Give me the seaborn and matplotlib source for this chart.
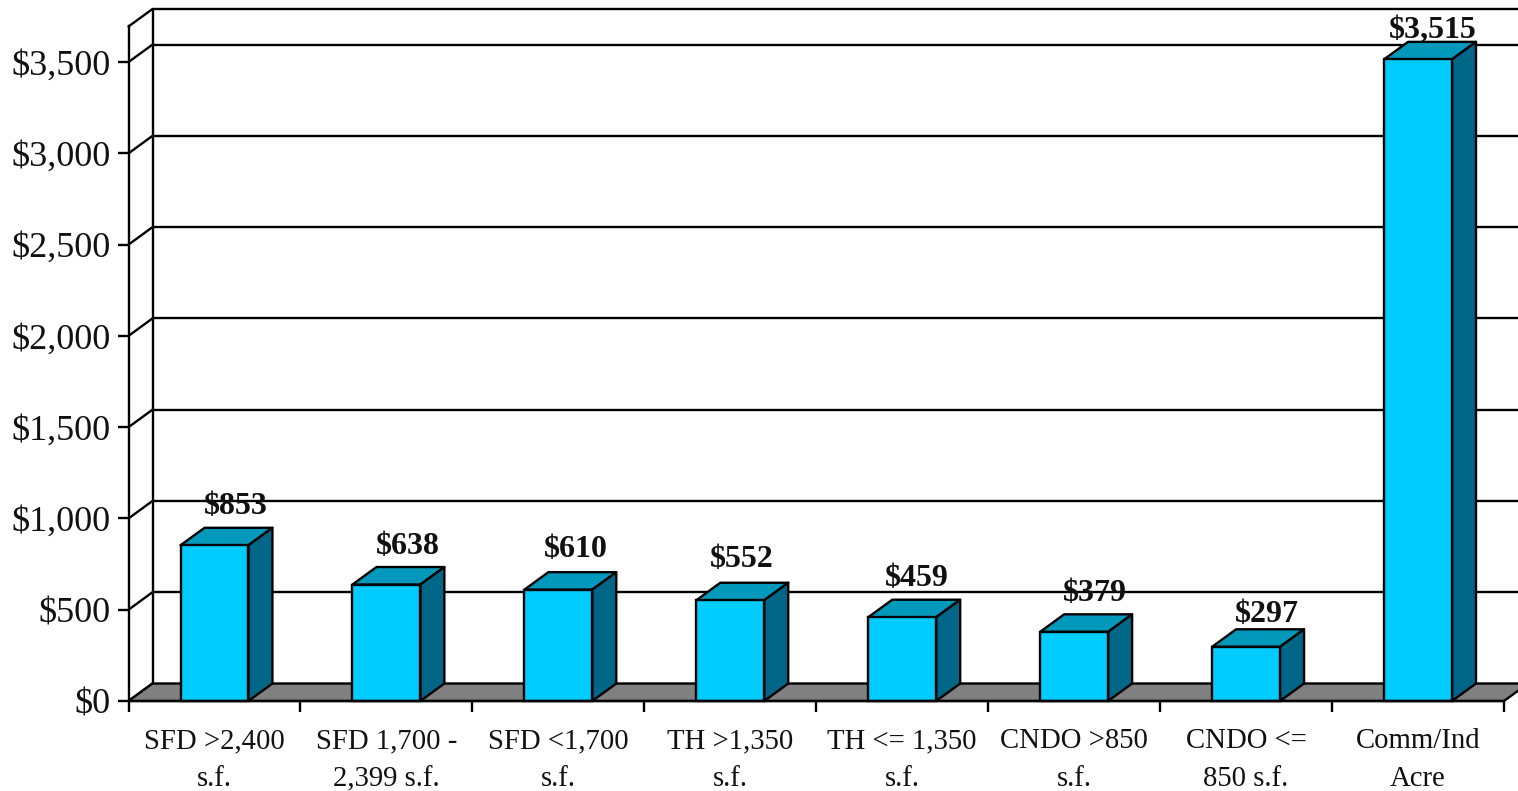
import matplotlib
matplotlib.use("Agg")
import matplotlib.pyplot as plt
from matplotlib.patches import Polygon
import numpy as np
import pandas as pd
import seaborn as sns

# Values
categories = ["SFD >2,400\ns.f.", "SFD 1,700 -\n2,399 s.f.", "SFD <1,700\ns.f.",
              "TH >1,350\ns.f.", "TH <= 1,350\ns.f.", "CNDO >850\ns.f.",
              "CNDO <=\n850 s.f.", "Comm/Ind\nAcre"]
values = [853, 638, 610, 552, 459, 379, 297, 3515]
y_ticks = [0, 500, 1000, 1500, 2000, 2500, 3000, 3500]

FRONT = "#00CCFF"
TOP = "#0099BB"
SIDE = "#006688"
FLOOR = "#808080"
LW = 1.7

sns.set_theme(style="white")
plt.rcParams["font.family"] = ["Liberation Serif", "DejaVu Serif"]
plt.rcParams["text.color"] = "#111111"

df = pd.DataFrame({"category": categories, "value": values})

W, H = 1518, 791
fig = plt.figure(figsize=(W / 100, H / 100), dpi=100)
ax = fig.add_axes([128.5 / W, (H - 701) / H, (1504 - 128.5) / W, (701 - 26.5) / H])

sns.barplot(data=df, x="category", y="value", color=FRONT, saturation=1, width=0.395,
            edgecolor="black", linewidth=LW, zorder=5, ax=ax)

n = len(categories)
x0, x1 = -0.5, n - 0.5
y_top = 3695
ax.set_xlim(x0, x1)
ax.set_ylim(0, y_top)

# depth of the fake 3D box, in data units
dx = 24 / (1375.5 / n)
dy = 17.5 / (674.5 / y_top)
far_right = x1 + dx

# back wall gridlines and the left wall diagonals
for v in y_ticks:
    ax.plot([x0, x0 + dx], [v, v + dy], color="black", lw=LW, clip_on=False, zorder=1)
    if v > 0:
        ax.plot([x0 + dx, far_right], [v + dy, v + dy], color="black", lw=LW, clip_on=False, zorder=1)
ax.plot([x0, x0 + dx], [y_top, y_top + dy], color="black", lw=LW, clip_on=False, zorder=1)
ax.plot([x0 + dx, far_right], [y_top + dy, y_top + dy], color="black", lw=LW, clip_on=False, zorder=1)
ax.plot([x0 + dx, x0 + dx], [dy, y_top + dy], color="black", lw=LW, clip_on=False, zorder=1)

# floor
ax.add_patch(Polygon([(x0, 0), (x1, 0), (x1 + dx, dy), (x0 + dx, dy)], closed=True,
                     facecolor=FLOOR, edgecolor="black", lw=LW, clip_on=False, zorder=2))

# top and side of every bar, label above it
nudges = [(21, 21), (21, 21), (17, 23), (11, 23), (15, 21), (21, 21), (21, 15), (15, 11)]
for bar, v, (nx, ny) in zip(ax.patches, values, nudges):
    left = bar.get_x()
    right = left + bar.get_width()
    h = bar.get_height()
    ax.add_patch(Polygon([(left, h), (right, h), (right + dx, h + dy), (left + dx, h + dy)], closed=True,
                         facecolor=TOP, edgecolor="black", lw=LW, clip_on=False, zorder=4, joinstyle="round"))
    ax.add_patch(Polygon([(right, 0), (right + dx, dy), (right + dx, h + dy), (right, h)], closed=True,
                         facecolor=SIDE, edgecolor="black", lw=LW, clip_on=False, zorder=4, joinstyle="round"))
    bar.set_clip_on(False)
    ax.annotate(f"${v:,}", xy=(left + bar.get_width() / 2, h + dy), xytext=(nx * 0.72, ny * 0.72),
                textcoords="offset points", ha="center", va="center", fontsize=23,
                fontweight="bold", color="#111111", zorder=6, annotation_clip=False)

for side in ["top", "right"]:
    ax.spines[side].set_visible(False)
for side in ["left", "bottom"]:
    ax.spines[side].set_linewidth(LW)
    ax.spines[side].set_color("black")
    ax.spines[side].set_zorder(7)

ax.set_xlabel("")
ax.set_ylabel("")
ax.set_yticks(y_ticks)
ax.set_yticklabels([f"${t:,}" for t in y_ticks], fontsize=26, va="center_baseline")
ax.tick_params(axis="y", direction="out", length=8, width=LW, color="black", left=True, pad=5, labelcolor="#111111")
ax.set_xticks(range(n))
ax.set_xticklabels(categories, fontsize=20.7, linespacing=1.62)
ax.set_xticks(np.arange(n + 1) - 0.5, minor=True)
ax.tick_params(axis="x", which="major", length=0, pad=19.5, labelcolor="#111111")
ax.tick_params(axis="x", which="minor", direction="out", length=8, width=LW, color="black", bottom=True)

fig.savefig("out.png", dpi=100, facecolor="white")
